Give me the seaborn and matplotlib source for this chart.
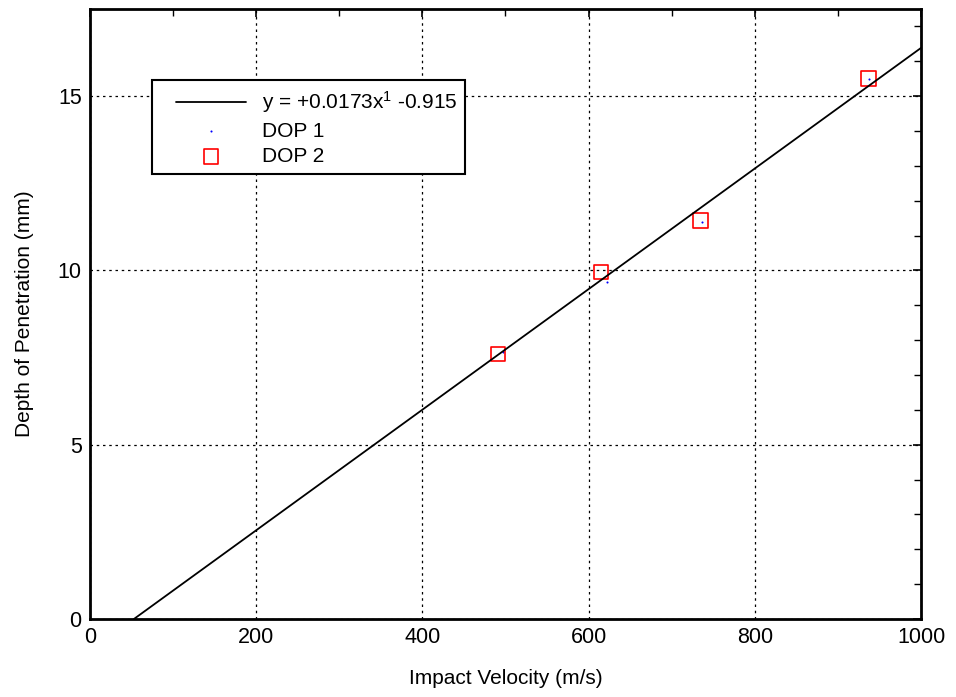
import numpy as np
import pandas as pd
import matplotlib
matplotlib.use("Agg")
import matplotlib.pyplot as plt
from matplotlib.patches import Rectangle
from matplotlib.ticker import MultipleLocator
import seaborn as sns

# Measured depth of penetration vs. impact velocity
velocity_dop1 = [497, 622, 736, 937]
depth_dop1 = [7.66, 9.66, 11.40, 15.50]
velocity_dop2 = [491, 615, 735, 937]
depth_dop2 = [7.60, 9.95, 11.44, 15.51]

# Linear fit coefficients
slope = 0.0173
intercept = -0.915
fit_label = "y = +0.0173x$^1$ -0.915"

sns.set_theme(style="white")
plt.rcParams["font.family"] = ["Liberation Sans", "DejaVu Sans"]
plt.rcParams["mathtext.default"] = "regular"
plt.rcParams["text.color"] = "black"
plt.rcParams["axes.labelcolor"] = "black"

fig = plt.figure(figsize=(9.56, 6.97), dpi=100)
ax = fig.add_axes([0.0941, 0.1119, 0.8693, 0.8751])

x_start = -intercept / slope
fit_x = np.array([x_start, 1000.0])
fit_df = pd.DataFrame({"x": fit_x, "y": slope * fit_x + intercept})

sns.lineplot(data=fit_df, x="x", y="y", ax=ax, color="black", lw=1.3,
             label=fit_label)
sns.scatterplot(x=velocity_dop1, y=depth_dop1, ax=ax, color="blue",
                marker=".", s=9, linewidth=0, label="DOP 1")
sns.scatterplot(x=velocity_dop2, y=depth_dop2, ax=ax, marker="s", s=110,
                facecolor="none", edgecolor="red", linewidth=1.2,
                label="DOP 2")

ax.set_xlim(0, 1000)
ax.set_ylim(0, 17.5)
ax.xaxis.set_major_locator(MultipleLocator(200))
ax.xaxis.set_minor_locator(MultipleLocator(100))
ax.yaxis.set_major_locator(MultipleLocator(5))
ax.yaxis.set_minor_locator(MultipleLocator(1))
ax.tick_params(which="both", direction="in", top=True, right=True,
               labelsize=15.5, colors="black", pad=6)
ax.tick_params(which="major", length=6, width=1.2)
ax.tick_params(which="minor", length=5, width=1.0)
ax.grid(True, which="major", color="black", linestyle=(0, (2, 3)), lw=0.9)
for s in ax.spines.values():
    s.set_color("black")
    s.set_linewidth(2)

ax.set_xlabel("Impact Velocity (m/s)", fontsize=15, labelpad=15)
ax.set_ylabel("Depth of Penetration (mm)", fontsize=15, labelpad=17)

# Legend box drawn as a plain rectangle, entries placed inside it
box = Rectangle((0.0746, 0.7295), 0.3767, 0.154, transform=ax.transAxes,
                facecolor="white", edgecolor="black", lw=1.5, zorder=4)
ax.add_patch(box)
leg = ax.legend(loc="upper left", bbox_to_anchor=(0.1035, 0.868),
                fontsize=15, frameon=False, handlelength=3.37,
                handletextpad=0.77, labelspacing=0.3, borderpad=0,
                borderaxespad=0)
leg.set_zorder(5)

fig.savefig("out.png", dpi=100)
